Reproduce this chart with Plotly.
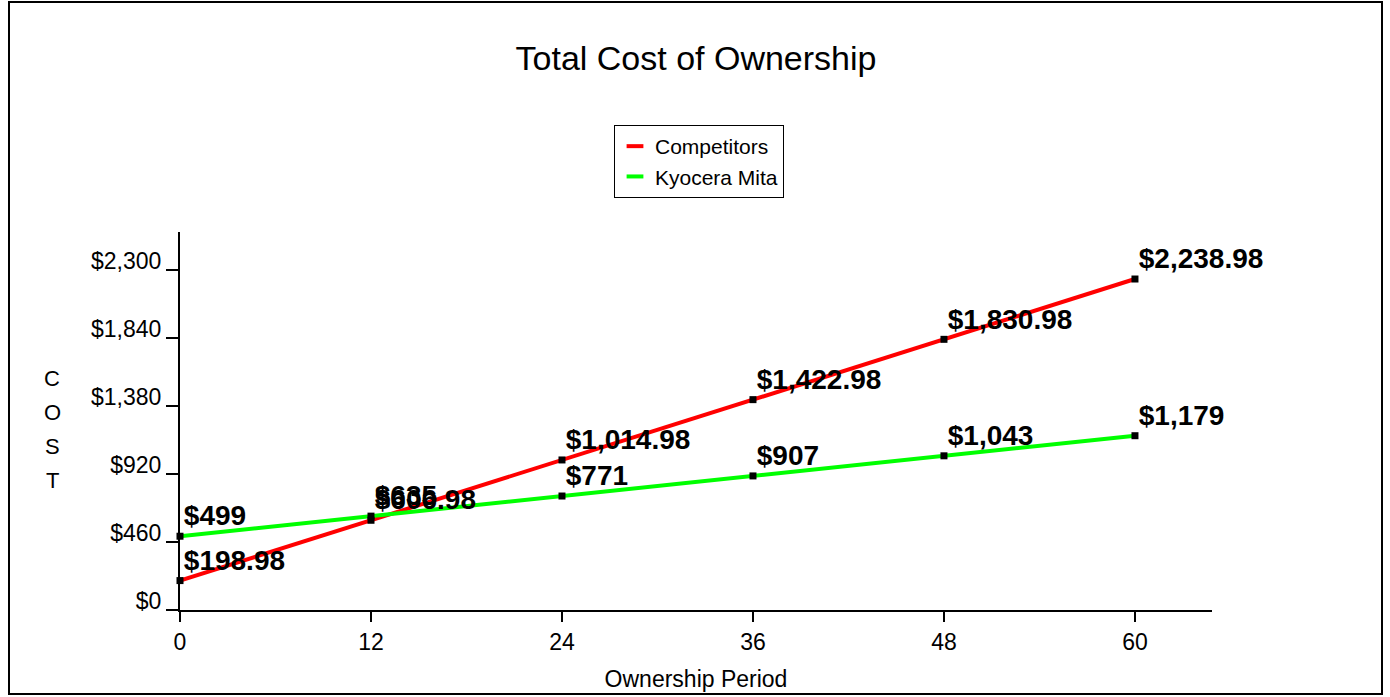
import plotly.graph_objects as go

months = [0, 12, 24, 36, 48, 60]
competitors = [198.98, 606.98, 1014.98, 1422.98, 1830.98, 2238.98]
kyocera = [499, 635, 771, 907, 1043, 1179]
comp_labels = ["$198.98", "$606.98", "$1,014.98", "$1,422.98", "$1,830.98", "$2,238.98"]
kyo_labels = ["$499", "$635", "$771", "$907", "$1,043", "$1,179"]
y_ticks = [0, 460, 920, 1380, 1840, 2300]
y_tick_text = ["$0", "$460", "$920", "$1,380", "$1,840", "$2,300"]
x_ticks = [0, 12, 24, 36, 48, 60]
y_title_letters = ["C", "O", "S", "T"]

FONT = "Liberation Sans, Arial, sans-serif"
W, H = 1390, 697
L, R, T, B = 180, 1212, 232, 610
PW, PH = R - L, B - T

def px(x):
    return (x - L) / PW

def py(y):
    return (B - y) / PH

series = [("Competitors", competitors, comp_labels, "#ff0000"),
          ("Kyocera Mita", kyocera, kyo_labels, "#00ff00")]

fig = go.Figure()
for name, ys, labels, color in series:
    fig.add_trace(go.Scatter(
        x=months, y=ys, mode="lines", line=dict(color=color, width=4),
        showlegend=False, hoverinfo="skip"))
for name, ys, labels, color in series:
    fig.add_trace(go.Scatter(
        x=months, y=ys, mode="markers",
        marker=dict(symbol="square", size=7, color="black"),
        showlegend=False, cliponaxis=False))
for name, ys, labels, color in series:
    fig.add_trace(go.Scatter(
        x=months, y=ys, mode="markers+text", text=labels, textposition="top right",
        marker=dict(size=4.5, opacity=0),
        textfont=dict(family=FONT, size=28, color="black", weight="bold"),
        showlegend=False, cliponaxis=False, hoverinfo="skip"))
# legend entries
for name, ys, labels, color in series:
    fig.add_trace(go.Scatter(
        x=[None], y=[None], mode="markers", name=name,
        marker=dict(symbol="line-ew", size=12, line=dict(color=color, width=4))))

fig.update_layout(
    width=W, height=H,
    margin=dict(l=L, r=W - R, t=T, b=H - B, autoexpand=False),
    paper_bgcolor="white", plot_bgcolor="white",
    font=dict(family=FONT, color="black", size=22),
    title=dict(text="Total Cost of Ownership", x=0.5, xref="paper", xanchor="center",
               y=1 - 58 / H, yanchor="middle", font=dict(size=34, family=FONT)),
    showlegend=True,
    legend=dict(x=px(614), y=py(125), xanchor="left", yanchor="top",
                bordercolor="black", borderwidth=1, bgcolor="white",
                font=dict(size=21, family=FONT), itemwidth=30,
                tracegroupgap=0),
)
fig.update_xaxes(range=[0, 64.84], tickvals=x_ticks, ticks="outside", ticklen=10,
                 tickwidth=2, tickcolor="black", showline=True, linecolor="black",
                 linewidth=2, showgrid=False, zeroline=False, automargin=False,
                 tickfont=dict(size=23),
                 title=dict(text="Ownership Period", font=dict(size=23), standoff=17))
fig.update_yaxes(range=[0, 2557], tickvals=y_ticks, ticktext=y_tick_text,
                 ticks="outside", ticklen=12, tickwidth=2, tickcolor="black",
                 showline=True, linecolor="black", linewidth=2, showgrid=False,
                 zeroline=False, ticklabelposition="outside", ticklabelshift=-9,
                 automargin=False, tickfont=dict(size=23))
for i, ch in enumerate(y_title_letters):
    fig.add_annotation(text=ch, xref="paper", yref="paper",
                       x=px(52), y=py(378 + i * 34), showarrow=False,
                       font=dict(size=22, family=FONT), xanchor="center", yanchor="middle")
fig.add_shape(type="rect", xref="paper", yref="paper",
              x0=px(9), x1=px(1382), y0=py(694), y1=py(2),
              line=dict(color="black", width=2))

fig.write_html("out.html", config={"displayModeBar": False},
               post_script="document.body.style.margin='0';")
